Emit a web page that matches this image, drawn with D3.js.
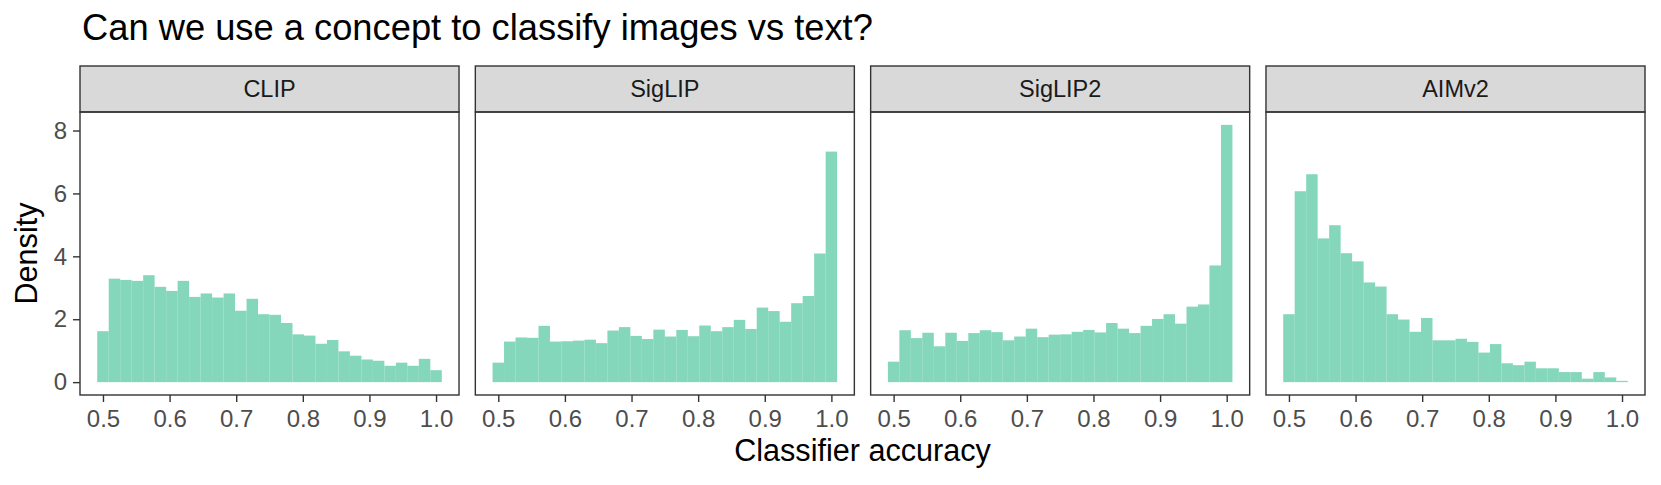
<!DOCTYPE html>
<html>
<head>
<meta charset="utf-8">
<script src="https://cdn.jsdelivr.net/npm/d3@7"></script>
<style>
  body { margin: 0; background: #fff; }
  text { font-family: "Liberation Sans", Arial, Helvetica, sans-serif; }
</style>
</head>
<body>
<div id="chart"></div>
<script>
// facet names, in panel order
var models = ['CLIP', 'SigLIP', 'SigLIP2', 'AIMv2'];

// histogram densities, 30 bins each
var clipDensity = [1.62, 3.29, 3.25, 3.22, 3.40, 3.03, 2.90, 3.22, 2.71, 2.82,
                   2.69, 2.82, 2.27, 2.65, 2.16, 2.14, 1.88, 1.52, 1.48, 1.22,
                   1.34, 0.98, 0.84, 0.72, 0.68, 0.52, 0.62, 0.52, 0.74, 0.38];
var siglipDensity = [0.62, 1.29, 1.42, 1.41, 1.79, 1.29, 1.30, 1.32, 1.35, 1.24,
                     1.64, 1.75, 1.47, 1.37, 1.67, 1.45, 1.66, 1.46, 1.80, 1.62,
                     1.75, 1.98, 1.69, 2.37, 2.26, 1.92, 2.51, 2.74, 4.09, 7.33];
var siglip2Density = [0.65, 1.65, 1.40, 1.57, 1.14, 1.57, 1.31, 1.56, 1.65, 1.59,
                      1.33, 1.45, 1.70, 1.43, 1.51, 1.52, 1.60, 1.66, 1.58, 1.88,
                      1.70, 1.56, 1.79, 2.01, 2.16, 1.86, 2.40, 2.47, 3.71, 8.18];
var aimv2Density = [2.16, 6.07, 6.61, 4.57, 4.99, 4.10, 3.84, 3.17, 3.04, 2.16,
                    1.99, 1.60, 2.04, 1.33, 1.33, 1.38, 1.28, 0.94, 1.21, 0.60,
                    0.54, 0.65, 0.44, 0.44, 0.32, 0.32, 0.11, 0.32, 0.15, 0.04];

// bins: 30 bins, centres running from 0.5 to 1.0
var binFirst = 0.5, binLast = 1.0, nBins = 30;

var xTicks = [0.5, 0.6, 0.7, 0.8, 0.9, 1.0];
var yTicks = [0, 2, 4, 6, 8];

var series = [clipDensity, siglipDensity, siglip2Density, aimv2Density];

var W = 1661, H = 485,
    left = 80, right = 1645,
    stripTop = 66, panelTop = 112, panelBottom = 395,
    gap = 16.3,
    pw = (right - left - gap * (models.length - 1)) / models.length;

var binWidth = (binLast - binFirst) / (nBins - 1);
var lo = binFirst - binWidth / 2, hi = binLast + binWidth / 2;
var ymax = d3.max(series, function(s) { return d3.max(s); });

var xScale = d3.scaleLinear()
    .domain([lo - 0.05 * (hi - lo), hi + 0.05 * (hi - lo)])
    .range([0, pw]);
var yScale = d3.scaleLinear()
    .domain([-0.05 * ymax, ymax * 1.05])
    .range([panelBottom, panelTop]);

var svg = d3.select('#chart').append('svg')
    .attr('width', W)
    .attr('height', H);

svg.append('text')
    .attr('x', 82)
    .attr('y', 40)
    .style('font-size', '36.3px')
    .style('fill', '#000')
    .text('Can we use a concept to classify images vs text?');

models.forEach(function(name, i) {
    var g = svg.append('g')
        .attr('transform', 'translate(' + (left + i * (pw + gap)) + ',0)');

    // strip
    g.append('rect')
        .attr('x', 0).attr('y', stripTop)
        .attr('width', pw).attr('height', panelTop - stripTop)
        .style('fill', '#D9D9D9')
        .style('stroke', '#333333')
        .style('stroke-width', 1.4);
    g.append('text')
        .attr('x', pw / 2)
        .attr('y', (stripTop + panelTop) / 2)
        .attr('dy', '0.36em')
        .attr('text-anchor', 'middle')
        .style('font-size', '23.5px')
        .style('fill', '#1A1A1A')
        .text(name);

    // bars
    var bins = series[i].map(function(d, j) {
        var c = binFirst + j * binWidth;
        return {x0: c - binWidth / 2, x1: c + binWidth / 2, y: d};
    });
    g.selectAll('.bar')
        .data(bins)
        .enter().append('rect')
        .attr('class', 'bar')
        .attr('x', function(d) { return xScale(d.x0); })
        .attr('width', function(d) { return xScale(d.x1) - xScale(d.x0); })
        .attr('y', function(d) { return yScale(d.y); })
        .attr('height', function(d) { return yScale(0) - yScale(d.y); })
        .style('fill', '#66CDAA')
        .style('fill-opacity', 0.8);

    // panel border
    g.append('rect')
        .attr('x', 0).attr('y', panelTop)
        .attr('width', pw).attr('height', panelBottom - panelTop)
        .style('fill', 'none')
        .style('stroke', '#333333')
        .style('stroke-width', 1.4);

    var xa = g.append('g')
        .attr('class', 'axis axis--x')
        .attr('transform', 'translate(0,' + panelBottom + ')')
        .call(d3.axisBottom(xScale).tickValues(xTicks).tickSize(7).tickPadding(8)
              .tickFormat(d3.format('.1f')));
    xa.select('.domain').remove();
    xa.selectAll('line').style('stroke', '#333333').style('stroke-width', 1.4);
    xa.selectAll('text')
        .style('font-size', '24px')
        .style('font-family', '"Liberation Sans", Arial, Helvetica, sans-serif')
        .style('fill', '#4D4D4D');

    if (i == 0) {
        var ya = g.append('g')
            .attr('class', 'axis axis--y')
            .call(d3.axisLeft(yScale).tickValues(yTicks).tickSize(7).tickPadding(6));
        ya.select('.domain').remove();
        ya.selectAll('line').style('stroke', '#333333').style('stroke-width', 1.4);
        ya.selectAll('text')
            .style('font-size', '24px')
            .style('font-family', '"Liberation Sans", Arial, Helvetica, sans-serif')
            .style('fill', '#4D4D4D');
    }
});

svg.append('text')
    .attr('x', (left + right) / 2)
    .attr('y', 461)
    .attr('text-anchor', 'middle')
    .style('font-size', '30.6px')
    .style('fill', '#000')
    .text('Classifier accuracy');

svg.append('text')
    .attr('transform', 'translate(37,' + ((panelTop + panelBottom) / 2) + ') rotate(-90)')
    .attr('text-anchor', 'middle')
    .style('font-size', '30.6px')
    .style('fill', '#000')
    .text('Density');
</script>
</body>
</html>
